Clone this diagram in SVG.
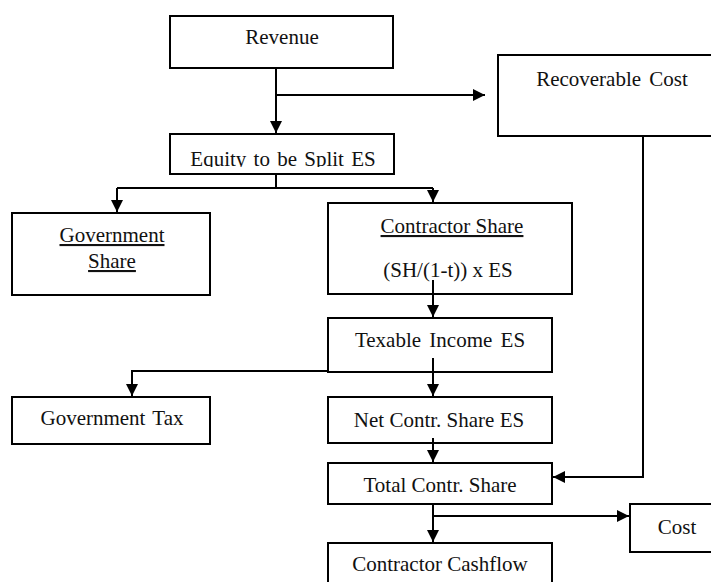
<svg xmlns="http://www.w3.org/2000/svg" width="711" height="582" viewBox="0 0 711 582">
<style>
.box{fill:#fff;stroke:#000;stroke-width:2}
.t{font-family:'Liberation Serif','Times New Roman',Times,serif;font-size:21px;fill:#111;text-anchor:middle}
.u{text-decoration:underline}
.c{fill:none;stroke:#000;stroke-width:2}
</style>
<defs>
<marker id="ah" markerUnits="userSpaceOnUse" markerWidth="12" markerHeight="12" viewBox="0 0 12 12" refX="12" refY="6" orient="auto">
<path d="M0,0 L12,6 L0,12 Z" fill="#000"/>
</marker>
<clipPath id="eqclip"><rect x="170" y="134" width="224" height="33"/></clipPath>
</defs>
<rect width="711" height="582" fill="#fff"/>
<g font-family="Liberation Serif, Times New Roman, serif">
<g id="revenue"><rect class="box" x="170" y="16" width="223" height="52"/><text class="t" x="282" y="44">Revenue</text></g>
<g id="recoverable"><rect class="box" x="498" y="55" width="220" height="81"/><text class="t" x="612" y="86" word-spacing="3">Recoverable Cost</text></g>
<g id="equity"><rect class="box" x="170" y="134" width="224" height="40"/><text class="t" x="283" y="166" clip-path="url(#eqclip)" word-spacing="2">Equity to be Split ES</text></g>
<g id="govshare"><rect class="box" x="12" y="213" width="198" height="82"/><text class="t u" x="112" y="242">Government</text><text class="t u" x="112" y="268">Share</text></g>
<g id="contrshare"><rect class="box" x="328" y="203" width="244" height="91"/><text class="t u" x="452" y="233">Contractor Share</text><text class="t" x="448" y="277">(SH/(1-t)) x ES</text></g>
<g id="taxable"><rect class="box" x="328" y="318" width="224" height="54"/><text class="t" x="440" y="347" word-spacing="3">Texable Income ES</text></g>
<g id="govtax"><rect class="box" x="12" y="397" width="198" height="47"/><text class="t" x="112" y="425" word-spacing="2">Government Tax</text></g>
<g id="netcontr"><rect class="box" x="328" y="397" width="224" height="46"/><text class="t" x="439" y="427">Net Contr. Share ES</text></g>
<g id="totalcontr"><rect class="box" x="328" y="463" width="224" height="41"/><text class="t" x="440" y="492">Total Contr. Share</text></g>
<g id="cost"><rect class="box" x="630" y="504" width="90" height="48"/><text class="t" x="677" y="534">Cost</text></g>
<g id="cashflow"><rect class="box" x="328" y="543" width="224" height="50"/><text class="t" x="440" y="571">Contractor Cashflow</text></g>
</g>
<g id="connectors">
<path class="c" d="M276,68 V133" marker-end="url(#ah)"/>
<path class="c" d="M276,95 H485" marker-end="url(#ah)"/>
<path class="c" d="M276,174 V188 M117,188 H433"/>
<path class="c" d="M117,188 V212" marker-end="url(#ah)"/>
<path class="c" d="M433,188 V202" marker-end="url(#ah)"/>
<path class="c" d="M433,280 V317" marker-end="url(#ah)"/>
<path class="c" d="M433,358 V396" marker-end="url(#ah)"/>
<path class="c" d="M328,371 H132 V396" marker-end="url(#ah)"/>
<path class="c" d="M433,438 V462" marker-end="url(#ah)"/>
<path class="c" d="M643,136 V477 H553" marker-end="url(#ah)"/>
<path class="c" d="M433,504 V542" marker-end="url(#ah)"/>
<path class="c" d="M433,516 H629" marker-end="url(#ah)"/>
</g>
</svg>
